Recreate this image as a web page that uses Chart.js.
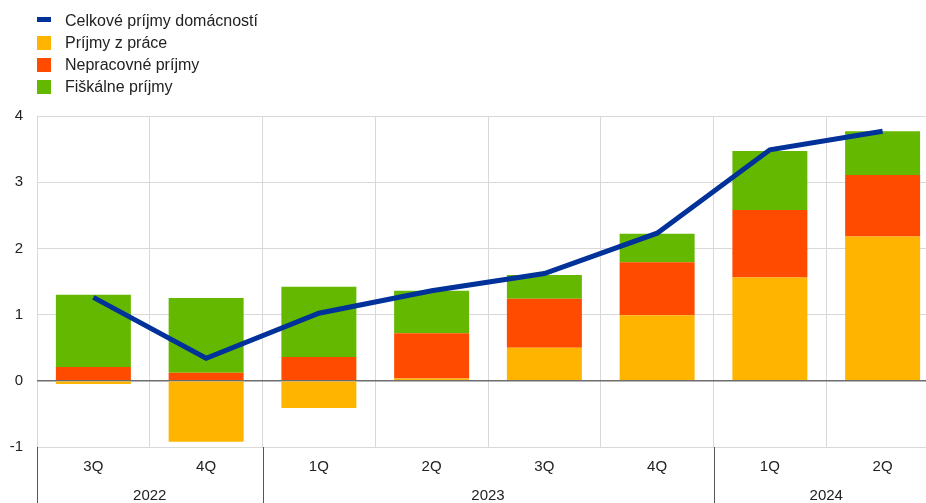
<!DOCTYPE html>
<html lang="sk">
<head>
<meta charset="utf-8">
<title>Príjmy domácností</title>
<script src="https://cdn.jsdelivr.net/npm/chart.js@4"></script>
<style>
    html, body { margin: 0; padding: 0; overflow: hidden; background: #fff; }
    #wrap { position: relative; width: 926px; height: 503px; }
    #grafico { position: absolute; left: 0; top: 0; }
    #leyenda { position: absolute; left: 37px; top: 10px; font-family: Arial, "Liberation Sans", sans-serif; font-size: 16px; color: #222; }
    .item { height: 22px; line-height: 22px; position: relative; padding-left: 28px; white-space: nowrap; }
    .marca { position: absolute; left: 0; }
</style>
</head>
<body>
<div id="wrap">
    <canvas id="grafico" width="939" height="503"></canvas>
    <div id="leyenda"></div>
</div>
<script>
// Datos del gráfico
const quarters = ['3Q', '4Q', '1Q', '2Q', '3Q', '4Q', '1Q', '2Q'];
const years = ['2022', '2022', '2023', '2023', '2023', '2023', '2024', '2024'];
const totalIncome = [1.26, 0.34, 1.02, 1.36, 1.62, 2.23, 3.49, 3.77];
const laborIncome = [-0.05, -0.92, -0.41, 0.035, 0.50, 0.99, 1.56, 2.18];
const nonLaborIncome = [0.21, 0.12, 0.36, 0.685, 0.74, 0.80, 1.02, 0.93];
const fiscalIncome = [1.09, 1.13, 1.06, 0.64, 0.36, 0.43, 0.89, 0.66];

const FONT = 'Arial, "Liberation Sans", sans-serif';

// Separadores de años y etiquetas de año bajo el eje
const yearAxis = {
    id: 'yearAxis',
    afterDraw(chart) {
        const x = chart.scales.x;
        const area = chart.chartArea;
        const ctx = chart.ctx;
        const half = (x.getPixelForValue(1) - x.getPixelForValue(0)) / 2;
        ctx.save();
        ctx.strokeStyle = '#555';
        ctx.lineWidth = 1;
        ctx.fillStyle = '#222';
        ctx.font = '15px ' + FONT;
        ctx.textAlign = 'center';
        ctx.textBaseline = 'middle';
        let start = 0;
        for (let i = 0; i <= years.length; i++) {
            if (i === years.length || (i > 0 && years[i] !== years[i - 1])) {
                const cx = (x.getPixelForValue(start) + x.getPixelForValue(i - 1)) / 2;
                ctx.fillText(years[start], cx, 496);
                start = i;
            }
            if (i === 0 || i === years.length || years[i] !== years[i - 1]) {
                const px = Math.round(x.getPixelForValue(i) - half) + 0.5;
                ctx.beginPath();
                ctx.moveTo(px, area.bottom);
                ctx.lineTo(px, chart.height);
                ctx.stroke();
            }
        }
        ctx.restore();
    }
};

document.addEventListener('DOMContentLoaded', function() {
    const ctx = document.getElementById('grafico');

    const chart = new Chart(ctx, {
        data: {
            labels: quarters,
            datasets: [
                {
                    type: 'line',
                    label: 'Celkové príjmy domácností',
                    data: totalIncome,
                    borderColor: '#003299',
                    backgroundColor: '#003299',
                    borderWidth: 5,
                    pointRadius: 0,
                    tension: 0,
                    stack: 'total',
                    order: 0
                },
                {
                    type: 'bar',
                    label: 'Príjmy z práce',
                    data: laborIncome,
                    backgroundColor: '#FFB400',
                    stack: 'parts',
                    order: 1
                },
                {
                    type: 'bar',
                    label: 'Nepracovné príjmy',
                    data: nonLaborIncome,
                    backgroundColor: '#FF4B00',
                    stack: 'parts',
                    order: 1
                },
                {
                    type: 'bar',
                    label: 'Fiškálne príjmy',
                    data: fiscalIncome,
                    backgroundColor: '#65B800',
                    stack: 'parts',
                    order: 1
                }
            ]
        },
        options: {
            responsive: false,
            animation: false,
            layout: { padding: { top: 116, left: 0, right: 0, bottom: 0 } },
            datasets: {
                bar: { categoryPercentage: 1, barPercentage: 0.665 }
            },
            plugins: {
                legend: { display: false },
                tooltip: { enabled: false }
            },
            scales: {
                x: {
                    stacked: true,
                    afterFit: scale => { scale.height = 56; },
                    grid: { color: '#d9d9d9', drawTicks: false, offset: true },
                    border: { display: false },
                    ticks: { color: '#222', font: { family: FONT, size: 15 }, padding: 11, maxRotation: 0 }
                },
                y: {
                    stacked: true,
                    min: -1,
                    max: 4,
                    afterFit: scale => { scale.width = 37; },
                    grid: {
                        color: c => c.tick.value === 0 ? '#6e6e6e' : '#d9d9d9',
                        lineWidth: c => c.tick.value === 0 ? 1.5 : 1,
                        drawTicks: false
                    },
                    border: { display: false },
                    ticks: { stepSize: 1, color: '#222', font: { family: FONT, size: 15 }, padding: 14 }
                }
            }
        },
        plugins: [yearAxis]
    });

    // Leyenda vertical en HTML
    const leyenda = document.getElementById('leyenda');
    chart.data.datasets.forEach(ds => {
        const item = document.createElement('div');
        item.className = 'item';
        const marca = document.createElement('span');
        marca.className = 'marca';
        marca.style.background = ds.backgroundColor;
        if (ds.type === 'line') {
            marca.style.width = '14px'; marca.style.height = '5px'; marca.style.top = '7px';
        } else {
            marca.style.width = '14px'; marca.style.height = '14px'; marca.style.top = '4px';
        }
        item.appendChild(marca);
        item.appendChild(document.createTextNode(ds.label));
        leyenda.appendChild(item);
    });
});
</script>
</body>
</html>
